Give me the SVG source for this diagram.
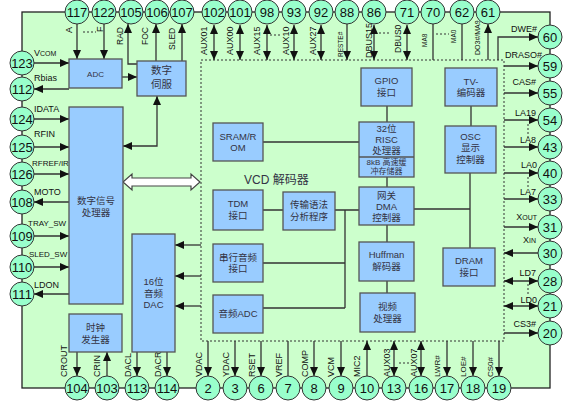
<svg xmlns="http://www.w3.org/2000/svg" width="572" height="411" viewBox="0 0 572 411">
<style>
.board{fill:#ccffcc;stroke:#222;stroke-width:1.3}
.vcd{fill:none;stroke:#333;stroke-width:1;stroke-dasharray:2,2}
.pin circle{fill:#99ffcc;stroke:#333;stroke-width:1}
.pin text{font-family:"Liberation Sans",Arial,sans-serif;font-size:13px;text-anchor:middle;fill:#111}
.box rect{fill:#99ccff;stroke:#555;stroke-width:1.3}
.box text,.bt{font-family:"Liberation Sans","Noto Sans CJK SC",sans-serif;font-size:9.5px;text-anchor:middle;fill:#334}
.ln{fill:none;stroke:#333;stroke-width:1.3}
.dot{fill:none;stroke:#333;stroke-width:1;stroke-dasharray:2,2}
.lbl{font-family:"Liberation Sans",Arial,sans-serif;font-size:9px;fill:#111}
.e{text-anchor:end}
.sm{font-size:7px}
</style>
<defs>
<marker id="ar" viewBox="0 0 9 8" refX="9" refY="4" markerWidth="9" markerHeight="8" markerUnits="userSpaceOnUse" orient="auto-start-reverse"><path d="M0,0L9,4L0,8z" fill="#111"/></marker>
</defs>
<rect class="board" x="22" y="12" width="528" height="376"/>
<rect class="vcd" x="201" y="60" width="303" height="281"/>
<text class="bt" x="244" y="184" style="font-size:12px;text-anchor:start">VCD 解码器</text>

<g id="connectors">
<!-- top -->
<path class="ln" d="M77,24V59" marker-end="url(#ar)"/>
<path class="ln" d="M104,24V59" marker-end="url(#ar)"/>
<path class="dot" d="M83,32H96"/>
<path class="ln" d="M137,64H128V24" marker-end="url(#ar)"/>
<path class="ln" d="M156,61V24" marker-end="url(#ar)"/>
<path class="ln" d="M182,61V24" marker-end="url(#ar)"/>
<path class="ln" d="M214,25V60" marker-start="url(#ar)" marker-end="url(#ar)"/>
<path class="ln" d="M240,25V60" marker-start="url(#ar)" marker-end="url(#ar)"/>
<path class="ln" d="M267,25V60" marker-start="url(#ar)" marker-end="url(#ar)"/>
<path class="dot" d="M270,35H282"/>
<path class="ln" d="M294,25V60" marker-start="url(#ar)" marker-end="url(#ar)"/>
<path class="ln" d="M321,25V60" marker-start="url(#ar)" marker-end="url(#ar)"/>
<path class="ln" d="M347,24V60" marker-end="url(#ar)"/>
<path class="ln" d="M374,25V60" marker-start="url(#ar)" marker-end="url(#ar)"/>
<path class="dot" d="M379,33H390"/>
<path class="ln" d="M407,25V60" marker-start="url(#ar)" marker-end="url(#ar)"/>
<path class="ln" d="M433,24V60"/>
<path class="dot" d="M436,34H449"/>
<path class="ln" d="M462,24V60"/>
<path class="ln" d="M488,60V24" marker-end="url(#ar)"/>
<!-- right -->
<path class="ln" d="M498,60V37H538" marker-end="url(#ar)"/>
<path class="ln" d="M504,66H538" marker-end="url(#ar)"/>
<path class="ln" d="M504,93H538" marker-end="url(#ar)"/>
<path class="ln" d="M504,120H538" marker-end="url(#ar)"/>
<path class="dot" d="M528,124V140"/>
<path class="ln" d="M504,147H538" marker-end="url(#ar)"/>
<path class="ln" d="M504,173H538" marker-end="url(#ar)"/>
<path class="dot" d="M528,177V189"/>
<path class="ln" d="M504,199H538" marker-end="url(#ar)"/>
<path class="ln" d="M504,227H538" marker-end="url(#ar)"/>
<path class="ln" d="M538,253H504" marker-end="url(#ar)"/>
<path class="ln" d="M504,281H538" marker-start="url(#ar)" marker-end="url(#ar)"/>
<path class="dot" d="M528,284V294"/>
<path class="ln" d="M504,306H538" marker-start="url(#ar)" marker-end="url(#ar)"/>
<path class="ln" d="M504,333H538" marker-end="url(#ar)"/>
<!-- bottom -->
<path class="ln" d="M77,352V376" marker-end="url(#ar)"/>
<path class="ln" d="M107,376V352" marker-end="url(#ar)"/>
<path class="ln" d="M137,352V376" marker-end="url(#ar)"/>
<path class="ln" d="M167,352V376" marker-end="url(#ar)"/>
<path class="ln" d="M208,341V376" marker-end="url(#ar)"/>
<path class="ln" d="M235,341V376" marker-end="url(#ar)"/>
<path class="ln" d="M261,341V376" marker-end="url(#ar)"/>
<path class="ln" d="M288,341V376"/>
<path class="ln" d="M314,341V376" marker-end="url(#ar)"/>
<path class="ln" d="M341,341V376" marker-end="url(#ar)"/>
<path class="ln" d="M367,376V341" marker-end="url(#ar)"/>
<path class="ln" d="M394,341V376" marker-start="url(#ar)" marker-end="url(#ar)"/>
<path class="dot" d="M399,363H410"/>
<path class="ln" d="M421,341V376" marker-start="url(#ar)" marker-end="url(#ar)"/>
<path class="ln" d="M447,341V376" marker-end="url(#ar)"/>
<path class="ln" d="M473,341V376" marker-end="url(#ar)"/>
<path class="ln" d="M499,341V376" marker-end="url(#ar)"/>
<!-- left -->
<path class="ln" d="M34,63H69" marker-end="url(#ar)"/>
<path class="ln" d="M69,89H34" marker-end="url(#ar)"/>
<path class="ln" d="M34,119H69" marker-end="url(#ar)"/>
<path class="ln" d="M34,147H69" marker-end="url(#ar)"/>
<path class="ln" d="M34,174H69" marker-end="url(#ar)"/>
<path class="ln" d="M69,202H34" marker-end="url(#ar)"/>
<path class="ln" d="M34,236H69" marker-end="url(#ar)"/>
<path class="ln" d="M34,267H69" marker-end="url(#ar)"/>
<path class="ln" d="M69,294H34" marker-end="url(#ar)"/>
<!-- internal -->
<path class="ln" d="M122,77H137" marker-end="url(#ar)"/>
<path class="ln" d="M157,96V146H123" marker-start="url(#ar)" marker-end="url(#ar)"/>
<path class="ln" d="M201,245H175" marker-end="url(#ar)"/>
<path class="ln" d="M201,276H175" marker-end="url(#ar)"/>
<path class="ln" d="M201,306H175" marker-end="url(#ar)"/>
<path class="ln" d="M263,142H359"/>
<path class="ln" d="M387,106V122M387,177V187M387,225V242M387,281V293"/>
<path class="ln" d="M263,210H283M335,210H359M345,210V308M263,263H345M263,308H345"/>
<path class="ln" d="M471,106V126M470,173V248M414,209H470"/>
<polygon points="123,182 132,174 132,178 191,178 191,174 200,182 191,190 191,186 132,186 132,190" fill="#fff" stroke="#444" stroke-width="1.2"/>
</g>

<g id="labels">
<text class="lbl" x="34" y="56">V<tspan class="sm">COM</tspan></text>
<text class="lbl" x="34" y="81">Rbias</text>
<text class="lbl" x="34" y="112">IDATA</text>
<text class="lbl" x="34" y="137">RFIN</text>
<text class="lbl" x="32" y="166" style="font-size:8px">RFREF/IR</text>
<text class="lbl" x="34" y="195">MOTO</text>
<text class="lbl" x="28" y="226" style="font-size:8px">TRAY_SW</text>
<text class="lbl" x="29" y="257" style="font-size:8px">SLED_SW</text>
<text class="lbl" x="34" y="288">LDON</text>

<text class="lbl e" x="537" y="32">DWE#</text>
<text class="lbl e" x="542" y="58">DRASO#</text>
<text class="lbl e" x="536" y="85">CAS#</text>
<text class="lbl e" x="536" y="116">LA19</text>
<text class="lbl e" x="536" y="143">LA8</text>
<text class="lbl e" x="537" y="168">LA0</text>
<text class="lbl e" x="536" y="195">LA7</text>
<text class="lbl e" x="537" y="220">X<tspan class="sm">OUT</tspan></text>
<text class="lbl e" x="536" y="243">X<tspan class="sm">IN</tspan></text>
<text class="lbl e" x="536" y="276">LD7</text>
<text class="lbl e" x="537" y="303">LD0</text>
<text class="lbl e" x="536" y="327">CS3#</text>

<text class="lbl" transform="translate(72,33) rotate(-90)">A</text>
<text class="lbl" transform="translate(103,32) rotate(-90)">F</text>
<text class="lbl" style="font-size:8.5px" transform="translate(123,45) rotate(-90)">RAD</text>
<text class="lbl" style="font-size:8.5px" transform="translate(148,45) rotate(-90)">FOC</text>
<text class="lbl" style="font-size:8.5px" transform="translate(175,50) rotate(-90)">SLED</text>
<text class="lbl" transform="translate(207,55) rotate(-90)">AUX01</text>
<text class="lbl" transform="translate(233,55) rotate(-90)">AUX00</text>
<text class="lbl" transform="translate(260,55) rotate(-90)">AUX15</text>
<text class="lbl" transform="translate(289,55) rotate(-90)">AUX10</text>
<text class="lbl" transform="translate(316,55) rotate(-90)">AUX27</text>
<text class="lbl" style="font-size:6.5px" transform="translate(343,57) rotate(-90)">RESTE#</text>
<text class="lbl" transform="translate(372,58) rotate(-90)">DBUS15</text>
<text class="lbl" style="font-size:8.5px" transform="translate(401,53) rotate(-90)">DBUS0</text>
<text class="lbl" style="font-size:6.5px" transform="translate(427,47) rotate(-90)">MA8</text>
<text class="lbl" style="font-size:6.5px" transform="translate(456,43) rotate(-90)">MA0</text>
<text class="lbl" style="font-size:7px" transform="translate(480,55) rotate(-90)">DO3#/MA9</text>

<text class="lbl" transform="translate(67,377) rotate(-90)">CROUT</text>
<text class="lbl" transform="translate(100,377) rotate(-90)">CRIN</text>
<text class="lbl" transform="translate(131,377) rotate(-90)">DACL</text>
<text class="lbl" transform="translate(161,377) rotate(-90)">DACR</text>
<text class="lbl" transform="translate(202,377) rotate(-90)">VDAC</text>
<text class="lbl" transform="translate(229,377) rotate(-90)">YDAC</text>
<text class="lbl" transform="translate(255,377) rotate(-90)">RSET</text>
<text class="lbl" transform="translate(282,377) rotate(-90)">VREF</text>
<text class="lbl" transform="translate(308,377) rotate(-90)">COMP</text>
<text class="lbl" transform="translate(334,377) rotate(-90)">VCM</text>
<text class="lbl" transform="translate(360,377) rotate(-90)">MIC2</text>
<text class="lbl" transform="translate(390,377) rotate(-90)">AUX03</text>
<text class="lbl" transform="translate(417,377) rotate(-90)">AUX07</text>
<text class="lbl" style="font-size:8px" transform="translate(440,377) rotate(-90)">LWR#</text>
<text class="lbl" style="font-size:8px" transform="translate(466,377) rotate(-90)">LOE#</text>
<text class="lbl" style="font-size:8px" transform="translate(493,377) rotate(-90)">CS0#</text>
</g>

<g id="adc" class="box"><rect x="69" y="59" width="53" height="29"/><text x="95.5" y="77" style="font-size:8px">ADC</text></g>
<g id="servo" class="box"><rect x="137" y="61" width="49" height="35"/><text x="161.5" y="74" style="font-size:10.5px">数字</text><text x="161.5" y="88" style="font-size:10.5px">伺服</text></g>
<g id="dsp" class="box"><rect x="69" y="107" width="54" height="197"/><text x="96" y="204">数字信号</text><text x="96" y="216">处理器</text></g>
<g id="clock" class="box"><rect x="69" y="314" width="53" height="38"/><text x="95.5" y="331">时钟</text><text x="95.5" y="343">发生器</text></g>
<g id="dac" class="box"><rect x="132" y="234" width="43" height="118"/><text x="153.5" y="285">16位</text><text x="153.5" y="297">音频</text><text x="153.5" y="308">DAC</text></g>
<g id="sram" class="box"><rect x="213" y="123" width="50" height="38"/><text x="238" y="140">SRAM/R</text><text x="238" y="151">OM</text></g>
<g id="tdm" class="box"><rect x="213" y="190" width="50" height="40"/><text x="238" y="207">TDM</text><text x="238" y="219">接口</text></g>
<g id="parser" class="box"><rect x="283" y="192" width="52" height="38"/><text x="309" y="208">传输语法</text><text x="309" y="220">分析程序</text></g>
<g id="serial" class="box"><rect x="213" y="244" width="50" height="38"/><text x="238" y="261">串行音频</text><text x="238" y="272">接口</text></g>
<g id="audioadc" class="box"><rect x="213" y="295" width="50" height="38"/><text x="238" y="317">音频ADC</text></g>
<g id="gpio" class="box"><rect x="361" y="68" width="51" height="38"/><text x="386.5" y="84">GPIO</text><text x="386.5" y="96">接口</text></g>
<g id="risc" class="box"><rect x="359" y="122" width="55" height="55"/><line x1="359" y1="157" x2="414" y2="157" stroke="#555" stroke-width="1.3"/><text x="386.5" y="132">32位</text><text x="386.5" y="143">RISC</text><text x="386.5" y="154">处理器</text><text x="386.5" y="165" style="font-size:8px">8kB 高速缓</text><text x="386.5" y="174" style="font-size:8px">冲存储器</text></g>
<g id="dma" class="box"><rect x="359" y="187" width="55" height="38"/><text x="386.5" y="199">网关</text><text x="386.5" y="210">DMA</text><text x="386.5" y="221">控制器</text></g>
<g id="huffman" class="box"><rect x="359" y="242" width="55" height="39"/><text x="386.5" y="258">Huffman</text><text x="386.5" y="270">解码器</text></g>
<g id="video" class="box"><rect x="360" y="293" width="55" height="39"/><text x="387.5" y="310">视频</text><text x="387.5" y="322">处理器</text></g>
<g id="tv" class="box"><rect x="445" y="68" width="52" height="38"/><text x="471" y="85">TV-</text><text x="471" y="96">编码器</text></g>
<g id="osc" class="box"><rect x="445" y="126" width="51" height="47"/><text x="470.5" y="140">OSC</text><text x="470.5" y="151">显示</text><text x="470.5" y="163">控制器</text></g>
<g id="dram" class="box"><rect x="443" y="248" width="52" height="38"/><text x="469" y="264">DRAM</text><text x="469" y="276">接口</text></g>

<g id="pins">
<g class="pin" id="p117"><circle cx="77" cy="12" r="12"/><text x="77" y="16.5">117</text></g>
<g class="pin" id="p122"><circle cx="104" cy="12" r="12"/><text x="104" y="16.5">122</text></g>
<g class="pin" id="p105"><circle cx="131" cy="12" r="12"/><text x="131" y="16.5">105</text></g>
<g class="pin" id="p106"><circle cx="157" cy="12" r="12"/><text x="157" y="16.5">106</text></g>
<g class="pin" id="p107"><circle cx="182" cy="12" r="12"/><text x="182" y="16.5">107</text></g>
<g class="pin" id="p102"><circle cx="214" cy="12" r="12"/><text x="214" y="16.5">102</text></g>
<g class="pin" id="p101"><circle cx="240" cy="12" r="12"/><text x="240" y="16.5">101</text></g>
<g class="pin" id="p98"><circle cx="267" cy="12" r="12"/><text x="267" y="16.5">98</text></g>
<g class="pin" id="p93"><circle cx="294" cy="12" r="12"/><text x="294" y="16.5">93</text></g>
<g class="pin" id="p92"><circle cx="321" cy="12" r="12"/><text x="321" y="16.5">92</text></g>
<g class="pin" id="p88"><circle cx="347" cy="12" r="12"/><text x="347" y="16.5">88</text></g>
<g class="pin" id="p86"><circle cx="374" cy="12" r="12"/><text x="374" y="16.5">86</text></g>
<g class="pin" id="p71"><circle cx="407" cy="12" r="12"/><text x="407" y="16.5">71</text></g>
<g class="pin" id="p70"><circle cx="433" cy="12" r="12"/><text x="433" y="16.5">70</text></g>
<g class="pin" id="p62"><circle cx="462" cy="12" r="12"/><text x="462" y="16.5">62</text></g>
<g class="pin" id="p61"><circle cx="488" cy="12" r="12"/><text x="488" y="16.5">61</text></g>

<g class="pin" id="p60"><circle cx="550" cy="37" r="12"/><text x="550" y="41.5">60</text></g>
<g class="pin" id="p59"><circle cx="550" cy="66" r="12"/><text x="550" y="70.5">59</text></g>
<g class="pin" id="p55"><circle cx="550" cy="93" r="12"/><text x="550" y="97.5">55</text></g>
<g class="pin" id="p54"><circle cx="550" cy="120" r="12"/><text x="550" y="124.5">54</text></g>
<g class="pin" id="p43"><circle cx="550" cy="147" r="12"/><text x="550" y="151.5">43</text></g>
<g class="pin" id="p40"><circle cx="550" cy="173" r="12"/><text x="550" y="177.5">40</text></g>
<g class="pin" id="p33"><circle cx="550" cy="199" r="12"/><text x="550" y="203.5">33</text></g>
<g class="pin" id="p31"><circle cx="550" cy="227" r="12"/><text x="550" y="231.5">31</text></g>
<g class="pin" id="p30"><circle cx="550" cy="253" r="12"/><text x="550" y="257.5">30</text></g>
<g class="pin" id="p28"><circle cx="550" cy="281" r="12"/><text x="550" y="285.5">28</text></g>
<g class="pin" id="p21"><circle cx="550" cy="306" r="12"/><text x="550" y="310.5">21</text></g>
<g class="pin" id="p20"><circle cx="550" cy="333" r="12"/><text x="550" y="337.5">20</text></g>

<g class="pin" id="p104"><circle cx="77" cy="388" r="12"/><text x="77" y="392.5">104</text></g>
<g class="pin" id="p103"><circle cx="107" cy="388" r="12"/><text x="107" y="392.5">103</text></g>
<g class="pin" id="p113"><circle cx="137" cy="388" r="12"/><text x="137" y="392.5">113</text></g>
<g class="pin" id="p114"><circle cx="167" cy="388" r="12"/><text x="167" y="392.5">114</text></g>
<g class="pin" id="p2"><circle cx="208" cy="388" r="12"/><text x="208" y="392.5">2</text></g>
<g class="pin" id="p3"><circle cx="235" cy="388" r="12"/><text x="235" y="392.5">3</text></g>
<g class="pin" id="p6"><circle cx="261" cy="388" r="12"/><text x="261" y="392.5">6</text></g>
<g class="pin" id="p7"><circle cx="288" cy="388" r="12"/><text x="288" y="392.5">7</text></g>
<g class="pin" id="p8"><circle cx="314" cy="388" r="12"/><text x="314" y="392.5">8</text></g>
<g class="pin" id="p9"><circle cx="341" cy="388" r="12"/><text x="341" y="392.5">9</text></g>
<g class="pin" id="p10"><circle cx="367" cy="388" r="12"/><text x="367" y="392.5">10</text></g>
<g class="pin" id="p13"><circle cx="394" cy="388" r="12"/><text x="394" y="392.5">13</text></g>
<g class="pin" id="p16"><circle cx="421" cy="388" r="12"/><text x="421" y="392.5">16</text></g>
<g class="pin" id="p17"><circle cx="447" cy="388" r="12"/><text x="447" y="392.5">17</text></g>
<g class="pin" id="p18"><circle cx="473" cy="388" r="12"/><text x="473" y="392.5">18</text></g>
<g class="pin" id="p19"><circle cx="499" cy="388" r="12"/><text x="499" y="392.5">19</text></g>

<g class="pin" id="p123"><circle cx="22" cy="63" r="12"/><text x="22" y="67.5">123</text></g>
<g class="pin" id="p112"><circle cx="22" cy="89" r="12"/><text x="22" y="93.5">112</text></g>
<g class="pin" id="p124"><circle cx="22" cy="119" r="12"/><text x="22" y="123.5">124</text></g>
<g class="pin" id="p125"><circle cx="22" cy="147" r="12"/><text x="22" y="151.5">125</text></g>
<g class="pin" id="p126"><circle cx="22" cy="174" r="12"/><text x="22" y="178.5">126</text></g>
<g class="pin" id="p108"><circle cx="22" cy="202" r="12"/><text x="22" y="206.5">108</text></g>
<g class="pin" id="p109"><circle cx="22" cy="236" r="12"/><text x="22" y="240.5">109</text></g>
<g class="pin" id="p110"><circle cx="22" cy="267" r="12"/><text x="22" y="271.5">110</text></g>
<g class="pin" id="p111"><circle cx="22" cy="294" r="12"/><text x="22" y="298.5">111</text></g>
</g>
</svg>
